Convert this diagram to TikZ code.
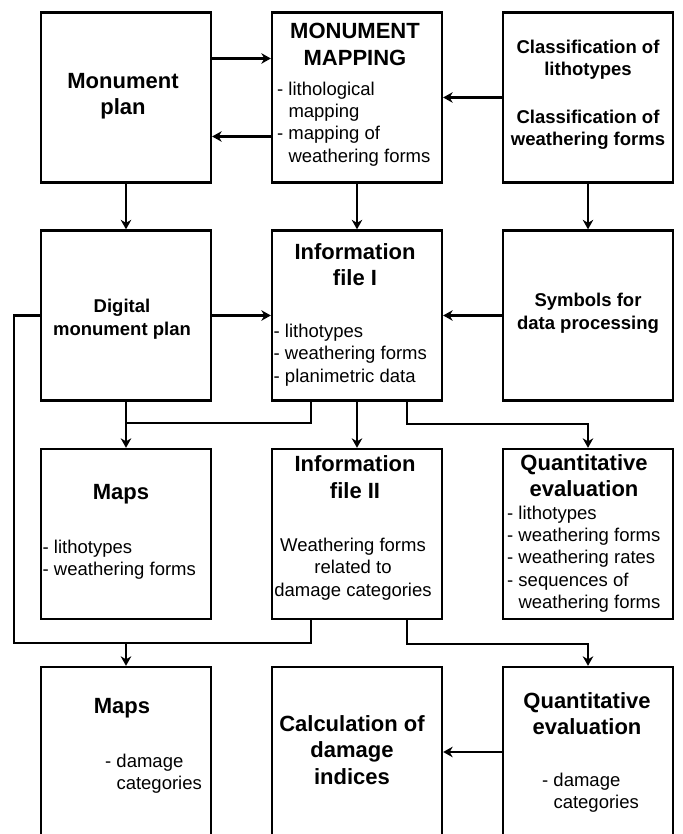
\documentclass[tikz,border=0pt]{standalone}
\usepackage{fontspec}
\setmainfont{Liberation Sans}
\usetikzlibrary{arrows.meta,positioning}
\newcommand{\listind}{\hphantom{-}\ }
\tikzset{
	box/.style={draw,line width=2.3pt,minimum width=170pt,minimum height=170pt,inner sep=0pt},
	big/.style={font=\bfseries\fontsize{22}{26.5}\selectfont,align=center,inner sep=0pt},
	head/.style={font=\bfseries\fontsize{18.5}{22.5}\selectfont,align=center,inner sep=0pt},
	txt/.style={font=\fontsize{18.5}{22.3}\selectfont,align=left,inner sep=0pt,anchor=west},
	body/.style={font=\fontsize{18.5}{22.3}\selectfont,align=center,inner sep=0pt},
	link/.style={line width=2.1pt,-{Stealth[length=9.5pt,width=10.5pt,inset=3pt]}},
	wire/.style={line width=2.1pt}
}

\begin{document}
\begin{tikzpicture}[x=1pt,y=1pt]
	\useasboundingbox (0,0) rectangle (682,834);
	% boxes
	\node[box] (plan) at (126,736.5) {};
	\node[box] (mapping) at (357,736.5) {};
	\node[box] (class) at (588,736.5) {};
	\node[box] (digital) at (126,518.5) {};
	\node[box] (infoI) at (357,518.5) {};
	\node[box] (symbols) at (588,518.5) {};
	\node[box] (mapsI) at (126,300) {};
	\node[box] (infoII) at (357,300) {};
	\node[box] (quantI) at (588,300) {};
	\node[box] (mapsII) at (126,82) {};
	\node[box] (calc) at (357,82) {};
	\node[box] (quantII) at (588,82) {};
	% texts
	\node[big] (planT) at (123,738) {Monument\\plan};
	\node[big] (mappingT) at (355,789.5) {MONUMENT\\MAPPING};
	\node[txt] (mappingL) at (277,710) {- lithological\\\listind mapping\\- mapping of\\\listind weathering forms};
	\node[head] (classT) at (588,739) {Classification of\\lithotypes\\[25pt]Classification of\\weathering forms};
	\node[head] (digitalT) at (122,515) {Digital\\monument plan};
	\node[big] (infoIT) at (355,569.5) {Information\\file I};
	\node[txt] (infoIL) at (273.5,479) {- lithotypes\\- weathering forms\\- planimetric data};
	\node[head] (symbolsT) at (588,520.5) {Symbols for\\data processing};
	\node[big] (mapsIT) at (121,340) {Maps};
	\node[txt] (mapsIL) at (42.5,274.5) {- lithotypes\\- weathering forms};
	\node[big] (infoIIT) at (355,357) {Information\\file II};
	\node[body] (infoIIB) at (353,265) {Weathering forms\\related to\\damage categories};
	\node[big] (quantIT) at (584,358.5) {Quantitative\\evaluation};
	\node[txt] (quantIL) at (507,275) {- lithotypes\\- weathering forms\\- weathering rates\\- sequences of\\\listind weathering forms};
	\node[big] (mapsIIT) at (122,126) {Maps};
	\node[txt] (mapsIIL) at (105,60) {- damage\\\listind categories};
	\node[big] (calcT) at (352,84) {Calculation of\\damage\\indices};
	\node[big] (quantIIT) at (587,120.5) {Quantitative\\evaluation};
	\node[txt] (quantIIL) at (542,41.5) {- damage\\\listind categories};
	% connectors
	\coordinate (busI) at (126,411);
	\coordinate (busII) at (14,191);
	\draw[link] ([yshift=39pt]plan.east) -- ([yshift=39pt]mapping.west);
	\draw[link] ([yshift=-39pt]mapping.west) -- ([yshift=-39pt]plan.east);
	\draw[link] (class.west) -- (mapping.east);
	\draw[link] (plan.south) -- (digital.north);
	\draw[link] (mapping.south) -- (infoI.north);
	\draw[link] (class.south) -- (symbols.north);
	\draw[link] (digital.east) -- (infoI.west);
	\draw[link] (symbols.west) -- (infoI.east);
	\draw[link] (digital.south) -- (mapsI.north);
	\draw[wire] ([xshift=-46pt]infoI.south) |- (busI);
	\draw[link] (infoI.south) -- (infoII.north);
	\draw[link] ([xshift=50pt]infoI.south) -- ++(0,-22.5) -| (quantI.north);
	\draw[wire] (digital.west) -| (busII) -| ([xshift=-46pt]infoII.south);
	\draw[link] (mapsII.north |- busII) -- (mapsII.north);
	\draw[link] ([xshift=50pt]infoII.south) -- ++(0,-24) -| (quantII.north);
	\draw[link] (quantII.west) -- (calc.east);
\end{tikzpicture}
\end{document}
